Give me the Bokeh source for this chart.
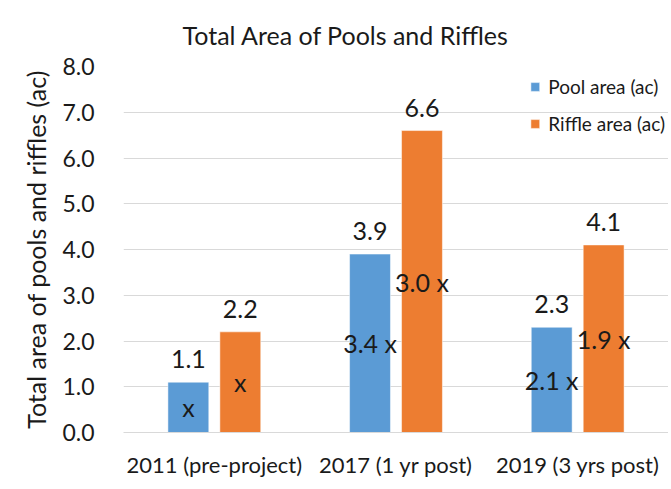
from bokeh.plotting import figure
from bokeh.models import (ColumnDataSource, FactorRange, Range1d, FixedTicker,
                          NumeralTickFormatter, Legend, LegendItem)
from bokeh.transform import dodge
from bokeh.core.properties import value
from bokeh.embed import file_html
from bokeh.resources import INLINE

categories = ["2011 (pre-project)", "2017 (1 yr post)", "2019 (3 yrs post)"]
pool_area = [1.1, 3.9, 2.3]
riffle_area = [2.2, 6.6, 4.1]
pool_inner = ["x", "3.4 x", "2.1 x"]
riffle_inner = ["x", "3.0 x", "1.9 x"]
y_ticks = [0, 1, 2, 3, 4, 5, 6, 7, 8]
title_text = "Total Area of Pools and Riffles"

BLUE = "#5B9BD5"
ORANGE = "#ED7D31"
FONT = "Lato"
TXT = "#1a1a1a"

src = ColumnDataSource(data=dict(
    cat=categories,
    pool=pool_area,
    riffle=riffle_area,
    pool_half=[v / 2 for v in pool_area],
    riffle_half=[v / 2 for v in riffle_area],
    pool_lbl=[f"{v:.1f}" for v in pool_area],
    riffle_lbl=[f"{v:.1f}" for v in riffle_area],
    pool_in=pool_inner,
    riffle_in=riffle_inner,
))

p = figure(x_range=FactorRange(*categories), y_range=Range1d(0, 8),
           width=668, height=480, output_backend="svg", toolbar_location=None,
           min_border_left=123, min_border_right=0, min_border_top=66,
           min_border_bottom=46)

p.title.text = title_text
p.title.align = "left"
p.title.offset = 59
p.title.standoff = 34
p.title.text_font = FONT
p.title.text_font_size = "25px"
p.title.text_font_style = "normal"
p.title.text_color = TXT

off = 0.143
bw = 0.225
r_pool = p.vbar(x=dodge("cat", -off, range=p.x_range), top="pool", width=bw,
                source=src, color=BLUE, line_color="white", line_width=0.5)
r_riff = p.vbar(x=dodge("cat", off, range=p.x_range), top="riffle", width=bw,
                source=src, color=ORANGE, line_color="white", line_width=0.5)

common = dict(source=src, text_font=value(FONT), text_font_size="25px",
              text_color=TXT, text_align="center")
p.text(x=dodge("cat", -off, range=p.x_range), y="pool", text="pool_lbl",
       text_baseline="bottom", y_offset=-14, **common)
p.text(x=dodge("cat", off, range=p.x_range), y="riffle", text="riffle_lbl",
       text_baseline="bottom", y_offset=-14, **common)
p.text(x=dodge("cat", -off, range=p.x_range), y="pool_half", text="pool_in",
       text_baseline="middle", **common)
p.text(x=dodge("cat", off, range=p.x_range), y="riffle_half", text="riffle_in",
       text_baseline="middle", **common)

# axes
p.yaxis.ticker = FixedTicker(ticks=y_ticks)
p.yaxis.formatter = NumeralTickFormatter(format="0.0")
p.yaxis.axis_line_color = None
p.yaxis.major_tick_line_color = None
p.yaxis.minor_tick_line_color = None
p.yaxis.major_label_standoff = 23
p.yaxis.major_label_text_font = FONT
p.yaxis.major_label_text_font_size = "23px"
p.yaxis.major_label_text_color = TXT
p.yaxis.axis_label = "Total area of pools and riffles (ac)"
p.yaxis.axis_label_text_font = FONT
p.yaxis.axis_label_text_font_size = "25px"
p.yaxis.axis_label_text_font_style = "normal"
p.yaxis.axis_label_text_color = TXT
p.yaxis.axis_label_standoff = 8

p.xaxis.axis_line_color = "#D9D9D9"
p.xaxis.major_tick_line_color = None
p.xaxis.minor_tick_line_color = None
p.xaxis.major_label_standoff = 12
p.xaxis.major_label_text_font = FONT
p.xaxis.major_label_text_font_size = "22px"
p.xaxis.major_label_text_color = TXT

p.xgrid.grid_line_color = None
p.ygrid.ticker = FixedTicker(ticks=y_ticks)
p.ygrid.grid_line_color = "#D9D9D9"
p.outline_line_color = None

legend = Legend(items=[LegendItem(label="Pool area (ac)", renderers=[r_pool]),
                       LegendItem(label="Riffle area (ac)", renderers=[r_riff])],
                location="top_right")
legend.border_line_color = None
legend.background_fill_alpha = 0
legend.margin = 3
legend.padding = 0
legend.spacing = 3
legend.glyph_width = 11
legend.glyph_height = 11
legend.label_height = 34
legend.label_standoff = 8
legend.label_text_font = FONT
legend.label_text_font_size = "19px"
legend.label_text_color = TXT
p.add_layout(legend)

open("out.html", "w").write(file_html(p, INLINE))
